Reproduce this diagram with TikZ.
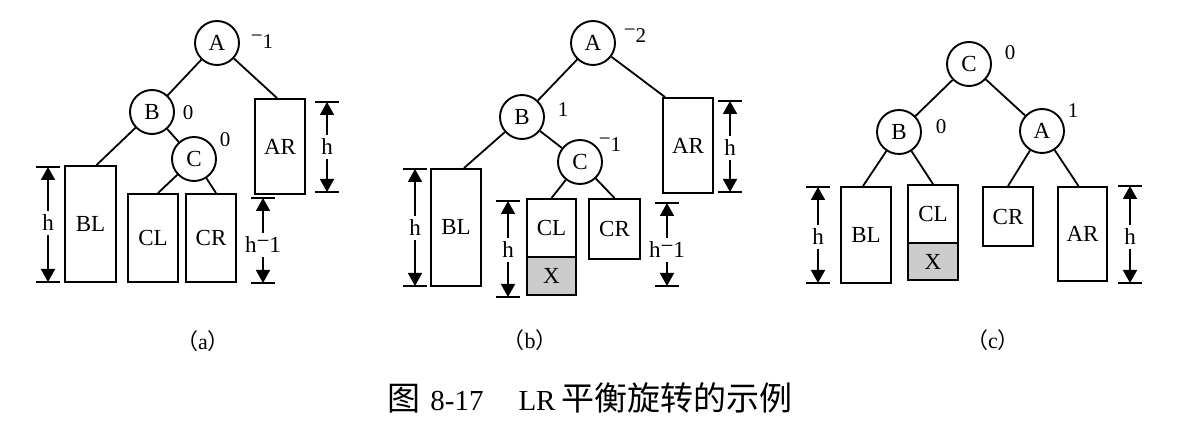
\documentclass[tikz,border=0pt]{standalone}
\usepackage{fontspec}
\setmainfont{Liberation Serif}
\newfontfamily\cjk{Noto Sans CJK SC}
\usetikzlibrary{arrows.meta}
\tikzset{
  circ/.style={circle,draw,line width=1.9pt,minimum size=44pt,inner sep=0pt,font=\fontsize{23}{26}\selectfont},
  box/.style={rectangle,draw,line width=1.9pt,inner sep=0pt,font=\fontsize{23}{26}\selectfont},
  xbox/.style={box,fill=gray!40},
  edge/.style={line width=1.8pt},
  bal/.style={font=\fontsize{21}{24}\selectfont,inner sep=0pt},
  dimtxt/.style={font=\fontsize{23}{26}\selectfont,inner xsep=0pt,inner ysep=4pt},
  dimarrow/.style={line width=1.7pt,-{Triangle[length=13pt,width=14pt]}},
  bar/.style={line width=1.9pt},
  sublabel/.style={font=\fontsize{22}{24}\selectfont,inner sep=0pt},
}
\newcommand\rminus[1]{\raisebox{#1}{−}}
% name, x, ytop, ybottom, ytext, text
\newcommand\mydim[6]{%
  \coordinate (#1t) at (#2,#3);
  \coordinate (#1b) at (#2,#4);
  \node[dimtxt] (#1h) at (#2,#5) {#6};
  \draw[bar] ([xshift=-12]#1t) -- ([xshift=12]#1t);
  \draw[bar] ([xshift=-12]#1b) -- ([xshift=12]#1b);
  \draw[dimarrow] (#1h) -- (#1t);
  \draw[dimarrow] (#1h) -- (#1b);
}
\begin{document}
\begin{tikzpicture}[x=1pt,y=-1pt]
\useasboundingbox (0,0) rectangle (1197,438);
% ---------------- (a)
\node[circ] (Aa) at (217,43) {A};
\node[circ] (Ba) at (152,112) {B};
\node[circ] (Ca) at (194,159) {C};
\node[box,minimum width=51pt,minimum height=116pt] (BLa) at (90.5,224) {BL};
\node[box,minimum width=50pt,minimum height=88pt] (CLa) at (153,238) {CL};
\node[box,minimum width=50pt,minimum height=88pt] (CRa) at (211,238) {CR};
\node[box,minimum width=50pt,minimum height=95pt] (ARa) at (280,146.5) {AR};
\draw[edge] (Aa) -- (Ba);
\draw[edge] (Aa) -- ([xshift=-3]ARa.north);
\draw[edge] (Ba) -- ([xshift=6]BLa.north);
\draw[edge] (Ba) -- (Ca);
\draw[edge] (Ca) -- ([xshift=5]CLa.north);
\draw[edge] (Ca) -- ([xshift=5]CRa.north);
\node[bal] (bAa) at (262,42) {\rminus{0.3em}1};
\node[bal] (bBa) at (188,113) {0};
\node[bal] (bCa) at (225,140) {0};
\mydim{da1}{48}{167}{282}{223}{h}
\mydim{da2}{327}{102}{192}{147}{h}
\mydim{da3}{263}{198}{283}{245}{h\rminus{0.2em}1}
\node[sublabel] (la) at (203,341) {{\cjk （}a{\cjk ）}};
% ---------------- (b)
\node[circ] (Ab) at (593,43) {A};
\node[circ] (Bb) at (522,117) {B};
\node[circ] (Cb) at (580,162) {C};
\node[box,minimum width=50pt,minimum height=117pt] (BLb) at (456,227.5) {BL};
\node[box,minimum width=49pt,minimum height=58pt] (CLb) at (551.5,228) {CL};
\node[xbox,minimum width=49pt,minimum height=38pt] (Xb) at (551.5,276) {X};
\node[box,minimum width=51pt,minimum height=60pt] (CRb) at (614.5,229) {CR};
\node[box,minimum width=50pt,minimum height=95pt] (ARb) at (688,145.5) {AR};
\draw[edge] (Ab) -- (Bb);
\draw[edge] (Ab) -- ([xshift=3]ARb.north west);
\draw[edge] (Bb) -- ([xshift=8]BLb.north);
\draw[edge] (Bb) -- (Cb);
\draw[edge] (Cb) -- (CLb.north);
\draw[edge] (Cb) -- (CRb.north);
\node[bal] (bAb) at (635,36) {\rminus{0.3em}2};
\node[bal] (bBb) at (563,110) {1};
\node[bal] (bCb) at (610,145) {\rminus{0.3em}1};
\mydim{db1}{415}{169}{286}{228}{h}
\mydim{db2}{508}{201}{297}{250}{h}
\mydim{db3}{730}{101}{192}{148}{h}
\mydim{db4}{667}{203}{286}{250}{h\rminus{0.2em}1}
\node[sublabel] (lb) at (530,340) {{\cjk （}b{\cjk ）}};
% ---------------- (c)
\node[circ] (Cc) at (969,64) {C};
\node[circ] (Bc) at (899,132) {B};
\node[circ] (Ac) at (1042,131) {A};
\node[box,minimum width=50pt,minimum height=96pt] (BLc) at (866,235) {BL};
\node[box,minimum width=50pt,minimum height=58pt] (CLc) at (933,214) {CL};
\node[xbox,minimum width=50pt,minimum height=37pt] (Xc) at (933,261.5) {X};
\node[box,minimum width=50pt,minimum height=59pt] (CRc) at (1008,216.5) {CR};
\node[box,minimum width=49pt,minimum height=94pt] (ARc) at (1082.5,234) {AR};
\draw[edge] (Cc) -- (Bc);
\draw[edge] (Cc) -- (Ac);
\draw[edge] (Bc) -- ([xshift=-3]BLc.north);
\draw[edge] (Bc) -- (CLc.north);
\draw[edge] (Ac) -- (CRc.north);
\draw[edge] (Ac) -- ([xshift=-4]ARc.north);
\node[bal] (bCc) at (1010,53) {0};
\node[bal] (bBc) at (941,127) {0};
\node[bal] (bAc) at (1073,111) {1};
\mydim{dc1}{818}{187}{283}{237}{h}
\mydim{dc2}{1130}{186}{283}{237}{h}
\node[sublabel] (lc) at (993,340) {{\cjk （}c{\cjk ）}};
% ---------------- caption
\node[inner sep=0pt] (cap) at (590,398) {{\cjk\fontsize{33}{36}\selectfont 图}\hspace{10pt}{\fontsize{29}{30}\selectfont 8-17}\hspace{35pt}{\fontsize{29}{30}\selectfont LR}\hspace{6pt}{\cjk\fontsize{33}{36}\selectfont 平衡旋转的示例}};
\end{tikzpicture}
\end{document}
